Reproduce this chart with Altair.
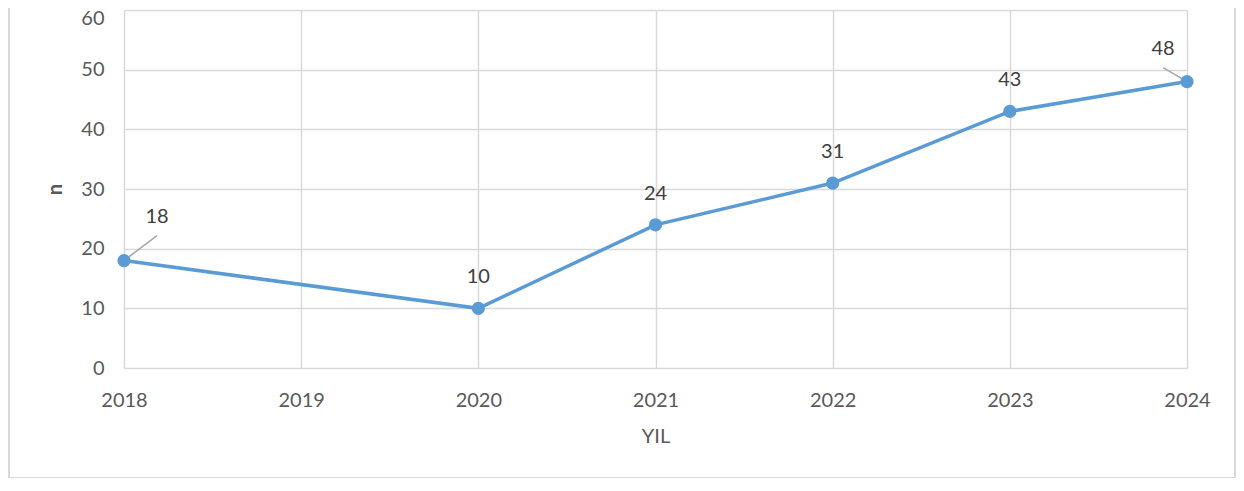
import altair as alt
import pandas as pd

years = [2018, 2020, 2021, 2022, 2023, 2024]
counts = [18, 10, 24, 31, 43, 48]
x_ticks = [2018, 2019, 2020, 2021, 2022, 2023, 2024]
y_ticks = [0, 10, 20, 30, 40, 50, 60]

df = pd.DataFrame({"YIL": years, "n": counts})

FONT = "Lato"
AXIS_COL = "#595959"
GRID = "#D9D9D9"
BLUE = "#5B9BD5"

W, H = 1063, 358

x_enc = alt.X("YIL:Q", scale=alt.Scale(domain=[2018, 2024], nice=False, zero=False),
              axis=alt.Axis(values=x_ticks, format="d", title="YIL", labelPadding=22,
                            labelFlush=False, labelOverlap=False,
                            titlePadding=16, titleFontWeight="normal"))
y_enc = alt.Y("n:Q", scale=alt.Scale(domain=[0, 60], nice=False),
              axis=alt.Axis(values=y_ticks, title="n", labelPadding=20, titlePadding=15,
                            labelFlush=False, labelOverlap=False,
                            labelOffset={"condition": {"test": "datum.value == 60", "value": 8},
                                         "value": 0},
                            titleFontWeight="bold"))

base = alt.Chart(df)

frame = alt.Chart(pd.DataFrame({"a": [0]})).mark_rect(
    fill="white", fillOpacity=0, stroke=GRID, strokeWidth=2
).encode(x=alt.value(-115), x2=alt.value(1111), y=alt.value(-30), y2=alt.value(468))

line = base.mark_line(color=BLUE, strokeWidth=3.5).encode(x=x_enc, y=y_enc)
pts = base.mark_circle(color=BLUE, opacity=1, size=175).encode(x="YIL:Q", y="n:Q")

mid_labels = base.transform_filter("datum.YIL > 2018 && datum.YIL < 2024").mark_text(
    font=FONT, fontSize=20, color="#404040", dy=-31, baseline="middle"
).encode(x="YIL:Q", y="n:Q", text="n:Q")

first_label = base.transform_filter("datum.YIL == 2018").mark_text(
    font=FONT, fontSize=20, color="#404040", dx=33, dy=-44, baseline="middle"
).encode(x="YIL:Q", y="n:Q", text="n:Q")

last_label = base.transform_filter("datum.YIL == 2024").mark_text(
    font=FONT, fontSize=20, color="#404040", dx=-24, dy=-33, baseline="middle"
).encode(x="YIL:Q", y="n:Q", text="n:Q")

lead_first = base.transform_filter("datum.YIL == 2018").transform_calculate(
    x2="datum.YIL + 0.186", y2="datum.n + 4.2"
).mark_rule(color="#A6A6A6", strokeWidth=1.5).encode(
    x="YIL:Q", y="n:Q", x2="x2:Q", y2="y2:Q")

lead_last = base.transform_filter("datum.YIL == 2024").transform_calculate(
    x2="datum.YIL - 0.135", y2="datum.n + 2.35"
).mark_rule(color="#A6A6A6", strokeWidth=1.5).encode(
    x="YIL:Q", y="n:Q", x2="x2:Q", y2="y2:Q")

chart = alt.layer(
    frame, line, lead_first, lead_last, pts, mid_labels, first_label, last_label
).properties(
    width=W, height=H,
    autosize=alt.AutoSizeParams(type="none"),
    padding={"left": 116, "top": 2, "right": 49, "bottom": 110},
    background="white",
).configure_view(stroke=None).configure_axis(
    labelFont=FONT, labelFontSize=20, labelColor=AXIS_COL,
    titleFont=FONT, titleFontSize=20, titleColor=AXIS_COL,
    gridColor=GRID, gridWidth=1.5, domain=False, ticks=False,
).configure_axisY(titleAngle=270)

chart.save("out.html", embed_options={"renderer": "svg", "actions": False})
